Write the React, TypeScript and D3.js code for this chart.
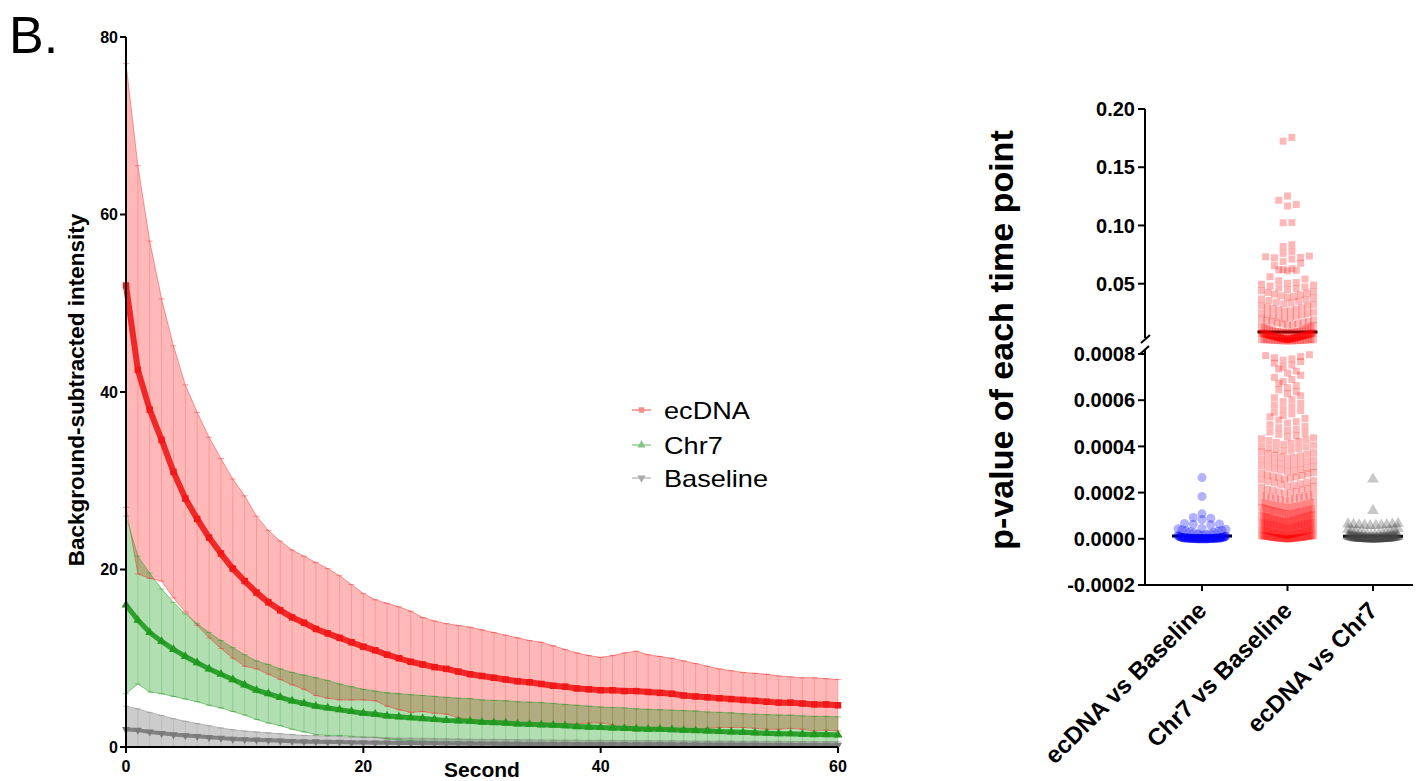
import React from "react";
import * as d3 from "d3";

const FONT = "'Liberation Sans', Arial, Helvetica, sans-serif";

// ---- panel B left: background-subtracted intensity, mean ± SD, one value per second ----
const seconds = d3.range(0, 61);

const ecdnaMean = [
  52, 42.5, 38, 34.6, 31, 28, 25.7, 23.6, 21.8, 20.1,
  18.7, 17.4, 16.3, 15.4, 14.6, 14.0, 13.3, 12.8, 12.3, 11.8,
  11.3, 10.9, 10.4, 10.0, 9.6, 9.3, 9.0, 8.8, 8.5, 8.2,
  8.0, 7.8, 7.6, 7.4, 7.3, 7.1, 6.9, 6.8, 6.6, 6.5,
  6.4, 6.4, 6.3, 6.3, 6.2, 6.1, 6.0, 5.8, 5.7, 5.6,
  5.5, 5.4, 5.3, 5.2, 5.1, 5.0, 5.0, 4.9, 4.8, 4.8, 4.7,
];
const ecdnaSd = [
  25, 23, 19, 15.9, 14.2, 12.8, 12, 11.3, 10.7, 10.1,
  9.6, 8.6, 8.1, 7.8, 7.6, 7.5, 7.5, 7.3, 7.0, 6.5,
  6.0, 5.7, 5.8, 5.8, 5.7, 5.3, 5.2, 5.1, 5.2, 5.3,
  5.2, 5.1, 5.0, 4.9, 4.7, 4.7, 4.5, 4.2, 4.0, 3.8,
  3.7, 3.9, 4.3, 4.5, 4.2, 4.1, 4.0, 3.9, 3.7, 3.5,
  3.3, 3.2, 3.1, 3.1, 3.1, 3.0, 2.9, 2.9, 3.0, 2.9, 2.9,
];
const chr7Mean = [
  16.0, 14.3, 12.9, 11.9, 11.0, 10.2, 9.5, 8.8, 8.2, 7.6,
  7.0, 6.4, 6.0, 5.6, 5.2, 4.9, 4.6, 4.4, 4.2, 4.0,
  3.8, 3.7, 3.5, 3.4, 3.3, 3.2, 3.1, 3.0, 2.95, 2.9,
  2.8, 2.75, 2.7, 2.6, 2.55, 2.5, 2.45, 2.4, 2.3, 2.25,
  2.2, 2.15, 2.1, 2.05, 2.0, 2.0, 1.95, 1.9, 1.85, 1.8,
  1.75, 1.7, 1.65, 1.6, 1.55, 1.5, 1.5, 1.45, 1.4, 1.4, 1.35,
];
const chr7Sd = [
  10, 7.2, 6.7, 5.9, 5.3, 4.8, 4.4, 4.1, 3.8, 3.6,
  3.4, 3.3, 3.3, 3.2, 3.2, 3.2, 3.2, 3.1, 2.9, 2.8,
  2.7, 2.6, 2.6, 2.6, 2.6, 2.6, 2.6, 2.6, 2.55, 2.55,
  2.5, 2.5, 2.5, 2.5, 2.5, 2.5, 2.45, 2.4, 2.4, 2.35,
  2.3, 2.3, 2.3, 2.25, 2.25, 2.2, 2.2, 2.2, 2.2, 2.15,
  2.15, 2.15, 2.1, 2.1, 2.1, 2.1, 2.1, 2.05, 2.05, 2.05, 2.05,
];
const baselineMean = [
  2.0, 1.9, 1.7, 1.55, 1.4, 1.3, 1.2, 1.1, 1.0, 0.9,
  0.85, 0.8, 0.75, 0.7, 0.65, 0.6, 0.6, 0.55, 0.55, 0.5,
  0.5, 0.48, 0.47, 0.45, 0.45, 0.43, 0.42, 0.4, 0.4, 0.38,
  0.37, 0.36, 0.35, 0.35, 0.34, 0.33, 0.32, 0.32, 0.31, 0.3,
  0.3, 0.29, 0.29, 0.28, 0.28, 0.27, 0.27, 0.26, 0.26, 0.25,
  0.25, 0.25, 0.24, 0.24, 0.23, 0.23, 0.22, 0.22, 0.22, 0.21, 0.21,
];
const baselineSd = [
  2.6, 2.4, 2.2, 2.0, 1.8, 1.6, 1.45, 1.3, 1.15, 1.05,
  0.95, 0.9, 0.85, 0.8, 0.75, 0.7, 0.68, 0.66, 0.64, 0.62,
  0.6, 0.58, 0.57, 0.56, 0.55, 0.54, 0.53, 0.52, 0.51, 0.5,
  0.5, 0.5, 0.49, 0.48, 0.48, 0.47, 0.47, 0.46, 0.46, 0.45,
  0.45, 0.45, 0.44, 0.44, 0.44, 0.43, 0.43, 0.43, 0.42, 0.42,
  0.42, 0.42, 0.41, 0.41, 0.41, 0.41, 0.4, 0.4, 0.4, 0.4, 0.4,
];
const seriesNames = ["ecDNA", "Chr7", "Baseline"];
const xTicksLeft = [0, 20, 40, 60];
const yTicksLeft = [0, 20, 40, 60, 80];

// ---- panel B right: p-value of each time point (values x 1e-6) ----
const comparisons = ["ecDNA vs Baseline", "Chr7 vs Baseline", "ecDNA vs Chr7"];
const pEcdnaVsBaselineE6 = [
  265, 183, 108, 92, 89, 83, 66, 64, 63, 61, 45, 43, 41, 39, 37, 35, 33, 30, 28, 26, 24,
  21, 18, 16, 14, 12, 11, 10, 9, 8, 8, 7, 7, 6, 6, 5, 5, 5, 5, 4, 4, 4, 4, 3, 3, 3, 3, 3, 3,
  2, 2, 2, 2, 2, 2, 2, 2, 1, 1, 1, 1, 1, 1, 1, 1, 1, 1, 1, 1,
  0, 0, 0, 0, 0, 0, 0, 0, 0, 0, 0, 0, 0, 0, 0, 0,
];
const pChr7VsBaselineE6 = [
  0, 0, 1, 1, 2, 3, 3, 4, 5, 6, 7, 8, 9, 10, 11, 12, 13, 14, 15, 17, 18, 19, 21, 22, 24,
  25, 27, 28, 30, 31, 33, 34, 36, 38, 39, 41, 43, 44, 46, 48, 50, 52, 53, 55, 57, 59,
  61, 63, 65, 67, 69, 71, 73, 75, 78, 80, 82, 84, 87, 89, 92, 94, 97, 99, 102, 105,
  108, 111, 114, 117, 120, 123, 127, 130, 134, 137, 141, 145, 149, 153, 157, 162, 166,
  171, 176, 181, 186, 192, 197, 203, 209, 215, 222, 228, 235, 242, 249,
  0, 1, 2, 2, 4, 5, 6, 7, 8, 10, 11, 12, 14, 16, 18, 20, 23, 26, 29, 32, 35, 37, 40,
  42, 45, 47, 49, 51, 54, 56, 58, 60, 62, 64, 66, 68, 70, 72, 74, 77, 79, 81, 83, 86,
  88, 91, 93, 96, 98, 101, 104, 107, 110, 113, 116, 119, 122, 125, 129, 132, 136, 139,
  143, 147, 151, 155, 160, 164, 169, 174, 179, 184, 189, 195, 200, 206, 212, 218, 225,
  231, 238, 245,
  0, 1, 3, 5, 7, 9, 12, 15, 19, 24, 28, 33, 38, 43, 48, 53, 58, 63, 68, 74, 79, 85, 91,
  96, 103, 109, 115, 121, 128, 135, 143,
  252, 255, 258, 262, 265, 268, 271, 274, 277, 281, 284, 287, 290, 293, 297, 300, 303,
  306, 309, 313, 316, 319, 322, 326, 329, 332, 335, 339, 342, 345, 349, 352, 355, 359,
  362, 366, 369, 373, 376, 380, 383, 387, 391, 394, 398, 402, 405, 409, 413, 417, 421,
  425, 429, 433, 437, 441, 446,
  452, 458, 463, 469, 474, 481, 487, 494, 501, 507, 514, 521, 528, 534, 541, 548, 556,
  563, 571, 579, 586, 594, 602, 611, 619, 628, 636, 645, 654, 663, 672, 681, 690, 699,
  708, 717, 726, 735, 744, 752, 760, 767, 773, 779, 784, 789, 793, 797,
  820, 900, 980, 1100, 1200, 1350, 1500, 1600, 1750, 1900, 2000, 2200, 2350, 2500, 2700,
  2850, 3000, 3200, 3350, 3500, 3700, 3900, 4100, 4300, 4500, 4700, 4900, 5100, 5300,
  5500, 5750, 6000, 6200, 6450, 6700, 6900, 7200, 7450, 7700, 7950, 8200, 8450, 8700, 8950,
  850, 940, 1050, 1150, 1280, 1420, 1550, 1680, 1820, 1950, 2100, 2280, 2420, 2600, 2780,
  2950, 3100, 3280, 3450, 3600, 3800, 4000, 4200, 4400, 4600, 4800, 5000, 5200, 5400,
  5650, 5900, 6100, 6350, 6600, 6800, 7050, 7300, 7600, 7850, 8100, 8350, 8600, 8850,
  9300, 9700, 10100, 10500, 11000, 11400, 11800, 12200, 12700, 13100, 13500, 14000,
  14400, 14900, 15300, 15800, 16300, 16800, 17300, 17800,
  18400, 19000, 19600, 20200, 20800, 21400, 22000, 22600, 23200, 23800, 24400, 25000,
  25600, 26200, 26800, 27400, 28000, 28600, 29200, 29800,
  30600, 31300, 32000, 32700, 33400, 34100, 34800, 35500, 36200, 36900, 37600, 38300,
  39000, 39700, 40400, 41100, 41800, 42500, 43200, 44000, 44800, 45600, 46400, 47200,
  48000, 48800, 49600, 50400,
  51000, 52500, 54000, 56000, 61000, 61400, 61800, 62200, 62800, 65500, 67500, 69000,
  71200, 72200, 72600, 73100, 73800, 76000, 77600, 81900, 83400,
  102300, 102400, 116700, 118000, 121600, 125300, 172400, 175600,
];
const pEcdnaVsChr7E6 = [
  258, 122, 66, 64, 63, 62, 61, 60, 59, 58, 57, 56, 44, 41, 38, 35, 32, 30, 28, 26, 24, 22,
  20, 18, 16, 15, 14, 13, 12, 11, 10, 9, 9, 8, 8, 7, 7, 6, 6, 6, 5, 5, 5, 5, 4, 4, 4, 4, 4,
  3, 3, 3, 3, 3, 3, 2, 2, 2, 2, 2, 2, 2, 2, 1, 1, 1, 1, 1, 1, 1, 1, 1, 1,
  0, 0, 0, 0, 0, 0, 0, 0, 0, 0, 0, 0, 0, 0, 0, 0, 0, 0,
];
const pMeans = [0.000012, 0.0086, 0.000011];
const topTicks = [0.05, 0.1, 0.15, 0.2];
const topTickLabels = ["0.05", "0.10", "0.15", "0.20"];
const bottomTicks = [-0.0002, 0, 0.0002, 0.0004, 0.0006, 0.0008];
const bottomTickLabels = ["-0.0002", "0.0000", "0.0002", "0.0004", "0.0006", "0.0008"];

// left scales
const xL = d3.scaleLinear().domain([0, 60]).range([126, 838]);
const yL = d3.scaleLinear().domain([0, 80]).range([747, 37]);

// right scales (broken y axis)
const yBot = d3.scaleLinear().domain([-0.0002, 0.0008]).range([585, 354]);
const yTop = d3.scaleLinear().domain([0.0008, 0.2]).range([341, 109]);
const yP = (v: number) => (v <= 0.0008 ? yBot(v) : yTop(v));
const xCat = d3.scalePoint<string>().domain(comparisons).range([1202, 1373]);

const leftSeries = [
  { name: seriesNames[0], mean: ecdnaMean, sd: ecdnaSd, band: "#ff0000", bandOp: 0.28, cap: "#f03c3c", line: "#f01818", lineW: 6, sym: d3.symbolSquare, rot: 0, legendLine: "#f7a6a6", legendSym: "#f48c8c" },
  { name: seriesNames[1], mean: chr7Mean, sd: chr7Sd, band: "#009600", bandOp: 0.3, cap: "#2c9c2c", line: "#1f9a1f", lineW: 5, sym: d3.symbolTriangle, rot: 0, legendLine: "#b0dab0", legendSym: "#86c486" },
  { name: seriesNames[2], mean: baselineMean, sd: baselineSd, band: "#646464", bandOp: 0.33, cap: "#8a8a8a", line: "#7a7a7a", lineW: 4, sym: d3.symbolTriangle, rot: 180, legendLine: "#cfcfcf", legendSym: "#ababab" },
];

type Dot = { x: number; y: number; v: number };
function swarm(values: number[], cx: number, halfW: number, size: number): Dot[] {
  const pts = values.map((v) => ({ v, y: yP(v) }));
  const rows = d3.groups(pts, (p) => Math.round(p.y / size));
  const out: Dot[] = [];
  rows.forEach(([, row]) => {
    row.sort((a, b) => a.v - b.v);
    const n = row.length;
    const step = n > 1 ? Math.min(size * 1.25, (2 * halfW) / (n - 1)) : 0;
    row.forEach((p, i) => {
      let slot: number;
      if (n % 2) slot = i === 0 ? 0 : (i % 2 ? 1 : -1) * Math.ceil(i / 2);
      else slot = (i % 2 ? 1 : -1) * (Math.floor(i / 2) + 0.5);
      out.push({ x: cx + slot * step, y: p.y, v: p.v });
    });
  });
  return out;
}

const columns = [
  { values: pEcdnaVsBaselineE6.map((v) => v * 1e-6), fill: "#0000ff", op: 0.3, sym: d3.symbolCircle, area: 64, size: 7, halfW: 24 },
  { values: pChr7VsBaselineE6.map((v) => v * 1e-6), fill: "#ff0000", op: 0.28, sym: d3.symbolSquare, area: 49, size: 7, halfW: 26 },
  { values: pEcdnaVsChr7E6.map((v) => v * 1e-6), fill: "#444444", op: 0.3, sym: d3.symbolTriangle, area: 60, size: 7, halfW: 25 },
];

function LeftPanel() {
  const area = (s: typeof leftSeries[0]) =>
    d3.area<number>()
      .x((t) => xL(t))
      .y0((_, i) => yL(s.mean[i] - s.sd[i]))
      .y1((_, i) => yL(s.mean[i] + s.sd[i]))(seconds) || "";
  const edge = (s: typeof leftSeries[0], sign: number) =>
    d3.line<number>()
      .x((t) => xL(t))
      .y((_, i) => yL(s.mean[i] + sign * s.sd[i]))(seconds) || "";
  const meanLine = (s: typeof leftSeries[0]) =>
    d3.line<number>()
      .x((t) => xL(t))
      .y((_, i) => yL(s.mean[i]))(seconds) || "";

  return (
    <g>
      <defs>
        <clipPath id="plotClip">
          <rect x={115} y={30} width={735} height={717} />
        </clipPath>
      </defs>
      <g clipPath="url(#plotClip)">
        {leftSeries.map((s) => (
          <path key={"a" + s.name} d={area(s)} fill={s.band} fillOpacity={s.bandOp} />
        ))}
        {leftSeries.map((s) => (
          <g key={"e" + s.name} stroke={s.cap} strokeOpacity={0.5} strokeWidth={1} fill="none">
            {seconds.map((t, i) => (
              <line key={i} x1={xL(t)} x2={xL(t)} y1={yL(s.mean[i] - s.sd[i])} y2={yL(s.mean[i] + s.sd[i])} strokeOpacity={0.25} />
            ))}
            <path d={edge(s, 1)} />
            <path d={edge(s, -1)} />
            {seconds.map((t, i) => (
              <g key={"c" + i}>
                <line x1={xL(t) - 3} x2={xL(t) + 3} y1={yL(s.mean[i] + s.sd[i])} y2={yL(s.mean[i] + s.sd[i])} />
                <line x1={xL(t) - 3} x2={xL(t) + 3} y1={yL(s.mean[i] - s.sd[i])} y2={yL(s.mean[i] - s.sd[i])} />
              </g>
            ))}
          </g>
        ))}
        {leftSeries.slice().reverse().map((s) => (
          <g key={"m" + s.name}>
            <path d={meanLine(s)} fill="none" stroke={s.line} strokeWidth={s.lineW} strokeOpacity={0.9} strokeLinejoin="round" />
            {seconds.map((t, i) => (
              <path
                key={i}
                d={d3.symbol().type(s.sym).size(s.lineW * 7)() || ""}
                transform={`translate(${xL(t)},${yL(s.mean[i])}) rotate(${s.rot})`}
                fill={s.line}
              />
            ))}
          </g>
        ))}
      </g>

      {/* axes */}
      <line x1={126} x2={126} y1={yL(80)} y2={yL(0)} stroke="#000" strokeWidth={2} />
      <line x1={126} x2={xL(60)} y1={yL(0)} y2={yL(0)} stroke="#000" strokeWidth={2} />
      {yTicksLeft.map((v) => (
        <g key={"yt" + v}>
          <line x1={120} x2={126} y1={yL(v)} y2={yL(v)} stroke="#000" strokeWidth={2} />
          <text x={118} y={yL(v)} dy="0.36em" textAnchor="end" fontSize={16} fontWeight="bold" fontFamily={FONT}>{v}</text>
        </g>
      ))}
      {xTicksLeft.map((v) => (
        <g key={"xt" + v}>
          <line x1={xL(v)} x2={xL(v)} y1={yL(0)} y2={yL(0) + 6} stroke="#000" strokeWidth={2} />
          <text x={xL(v)} y={772} textAnchor="middle" fontSize={16} fontWeight="bold" fontFamily={FONT}>{v}</text>
        </g>
      ))}
      <text x={482} y={777} textAnchor="middle" fontSize={21} fontWeight="bold" fontFamily={FONT}>Second</text>
      <text transform="translate(84,390) rotate(-90)" textAnchor="middle" fontSize={22.5} fontWeight="bold" fontFamily={FONT}>
        Background-subtracted intensity
      </text>

      {/* legend */}
      {leftSeries.map((s, i) => {
        const y = [410, 445, 478][i];
        return (
          <g key={"lg" + s.name}>
            <line x1={632} x2={651} y1={y} y2={y} stroke={s.legendLine} strokeWidth={2} />
            <path d={d3.symbol().type(s.sym).size(30)() || ""} transform={`translate(641.5,${y}) rotate(${s.rot})`} fill={s.legendSym} />
            <text transform={`translate(664,${y + 8.5}) scale(1.13,1)`} fontSize={24} fontFamily={FONT}>{s.name}</text>
          </g>
        );
      })}
    </g>
  );
}

function RightPanel() {
  return (
    <g>
      {/* mean lines under the points */}
      {comparisons.map((c, i) => (
        <line key={"mean" + c} x1={(xCat(c) || 0) - 30} x2={(xCat(c) || 0) + 30} y1={yP(pMeans[i])} y2={yP(pMeans[i])} stroke="#000" strokeWidth={3} />
      ))}
      {columns.map((col, ci) => {
        const dots = swarm(col.values, xCat(comparisons[ci]) || 0, col.halfW, col.size);
        const p = d3.symbol().type(col.sym).size(col.area)() || "";
        return (
          <g key={"col" + ci} fill={col.fill} fillOpacity={col.op}>
            {dots.map((d, i) => (
              <path key={i} d={p} transform={`translate(${d.x},${d.y})`} />
            ))}
          </g>
        );
      })}

      {/* broken y axis */}
      <line x1={1145} x2={1145} y1={yTop(0.2)} y2={338} stroke="#000" strokeWidth={2} />
      <line x1={1141} x2={1150} y1={343} y2={335} stroke="#000" strokeWidth={2} />
      <line x1={1140} x2={1149} y1={354} y2={346} stroke="#000" strokeWidth={2} />
      <line x1={1145} x2={1145} y1={350} y2={yBot(-0.0002)} stroke="#000" strokeWidth={2} />
      {topTicks.map((v, i) => (
        <g key={"tt" + v}>
          <line x1={1138} x2={1145} y1={yTop(v)} y2={yTop(v)} stroke="#000" strokeWidth={2} />
          <text x={1135} y={yTop(v)} dy="0.36em" textAnchor="end" fontSize={20} fontWeight="bold" fontFamily={FONT}>{topTickLabels[i]}</text>
        </g>
      ))}
      {bottomTicks.map((v, i) => (
        <g key={"bt" + v}>
          <line x1={1138} x2={1145} y1={yBot(v)} y2={yBot(v)} stroke="#000" strokeWidth={2} />
          <text x={1135} y={yBot(v)} dy="0.36em" textAnchor="end" fontSize={20} fontWeight="bold" fontFamily={FONT}>{bottomTickLabels[i]}</text>
        </g>
      ))}
      {/* x axis */}
      <line x1={1144} x2={1413} y1={yBot(-0.0002)} y2={yBot(-0.0002)} stroke="#000" strokeWidth={2} />
      {comparisons.map((c) => (
        <g key={"ct" + c}>
          <line x1={xCat(c)} x2={xCat(c)} y1={585} y2={591} stroke="#000" strokeWidth={2} />
          <text transform={`translate(${(xCat(c) || 0) + 6},${612}) rotate(-45)`} textAnchor="end" fontSize={24} fontWeight="bold" fontFamily={FONT}>{c}</text>
        </g>
      ))}
      <text transform="translate(1013,340) rotate(-90)" textAnchor="middle" fontSize={34} fontWeight="bold" fontFamily={FONT}>
        p-value of each time point
      </text>
    </g>
  );
}

export default function App() {
  return (
    <svg width={1417} height={781} style={{ position: "absolute", left: 0, top: 0, background: "#fff" }}>
      <rect width={1417} height={781} fill="#fff" />
      <text x={9} y={53} fontSize={52} fontFamily={FONT}>B.</text>
      <LeftPanel />
      <RightPanel />
    </svg>
  );
}
